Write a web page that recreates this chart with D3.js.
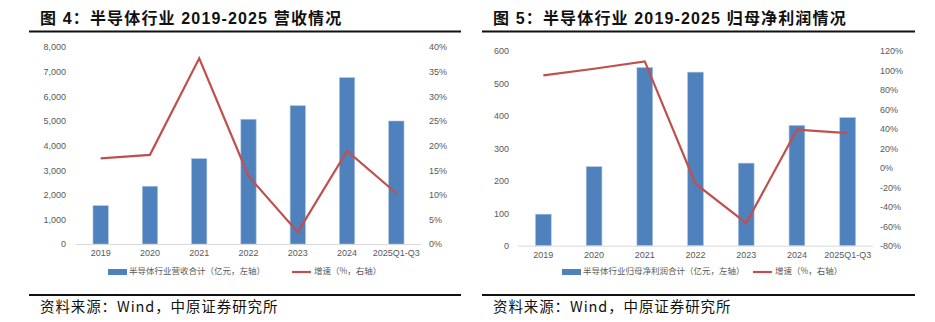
<!DOCTYPE html>
<html>
<head>
<meta charset="utf-8">
<script src="https://cdn.jsdelivr.net/npm/d3@7"></script>
<style>
  html, body { margin: 0; padding: 0; background: #fff; }
  svg { display: block; }
</style>
</head>
<body>
<svg id="chart" width="935" height="322"></svg>
<script>
// Semiconductor industry, 2019-2025
const categories = ["2019", "2020", "2021", "2022", "2023", "2024", "2025Q1-Q3"];

// Fig. 4: revenue (100M CNY, left axis) and growth (%, right axis)
const revenue = [1555, 2345, 3465, 5065, 5615, 6755, 4995];
const revenueGrowth = [17.4, 18.1, 37.7, 13.8, 2.4, 18.9, 10.3];
const revenueTicks = [0, 1000, 2000, 3000, 4000, 5000, 6000, 7000, 8000];
const revenueGrowthTicks = [0, 5, 10, 15, 20, 25, 30, 35, 40];

// Fig. 5: net profit attributable to parent (100M CNY, left axis) and growth (%, right axis)
const netProfit = [97, 243, 548, 534, 254, 370, 394];
const profitGrowth = [94.7, 101.5, 109, -16.4, -56.8, 39, 35.5];
const profitTicks = [0, 100, 200, 300, 400, 500, 600];
const profitGrowthTicks = [-80, -60, -40, -20, 0, 20, 40, 60, 80, 100, 120];

const BAR = "#4f81bd", LINE = "#c0504d", TXT = "#595959";
const latin = "'Liberation Sans', Arial, 'Noto Sans CJK SC', sans-serif";
const cjk = "'Noto Sans CJK SC', 'Liberation Sans', sans-serif";

const svg = d3.select("#chart");

function panel(o) {
  const g = svg.append("g");

  // heading with rule beneath
  g.append("text")
    .attr("x", o.titleX).attr("y", 20)
    .attr("dominant-baseline", "middle")
    .attr("font-family", latin).attr("font-weight", "bold")
    .attr("font-size", 16).attr("letter-spacing", 1.15).attr("fill", "#111")
    .text(o.title);
  g.append("line")
    .attr("x1", o.ruleX1).attr("x2", o.ruleX2)
    .attr("y1", 31.5).attr("y2", 31.5)
    .attr("stroke", "#111").attr("stroke-width", 2);

  const x = d3.scaleBand().domain(categories).range([o.x0, o.x1]);
  const yL = d3.scaleLinear().domain(o.leftDomain).range([o.yBottom, o.yTop]);
  const yR = d3.scaleLinear().domain(o.rightDomain).range([o.yBottom, o.yTop]);
  const bw = x.bandwidth() * 0.31;

  // bars
  g.append("g").selectAll("rect").data(o.bars).join("rect")
    .attr("x", (d, i) => x(categories[i]) + (x.bandwidth() - bw) / 2)
    .attr("y", d => yL(d))
    .attr("width", bw)
    .attr("height", d => yL(o.leftDomain[0]) - yL(d))
    .attr("fill", BAR)
    .attr("stroke", "#a8c0e0").attr("stroke-width", 0.6);

  // category baseline
  g.append("line")
    .attr("x1", o.x0).attr("x2", o.x1)
    .attr("y1", yL(0) + 0.5).attr("y2", yL(0) + 0.5)
    .attr("stroke", "#d9d9d9").attr("stroke-width", 1);

  // growth line
  const line = d3.line()
    .x((d, i) => x(categories[i]) + x.bandwidth() / 2)
    .y(d => yR(d));
  g.append("path").datum(o.line)
    .attr("d", line)
    .attr("fill", "none").attr("stroke", LINE)
    .attr("stroke-width", 2.2).attr("stroke-linejoin", "miter");

  // axes
  const styleAxis = sel => {
    sel.select(".domain").remove();
    sel.selectAll("line").remove();
    sel.selectAll("text").attr("font-family", latin)
      .attr("font-size", 9).attr("fill", TXT);
  };
  g.append("g").attr("transform", `translate(${o.leftLabelX},0)`)
    .call(d3.axisLeft(yL).tickValues(o.leftTicks).tickSize(0).tickPadding(0)
      .tickFormat(d3.format(",")))
    .call(styleAxis);
  g.append("g").attr("transform", `translate(${o.rightLabelX},0)`)
    .call(d3.axisRight(yR).tickValues(o.rightTicks).tickSize(0).tickPadding(0)
      .tickFormat(d => d + "%"))
    .call(styleAxis);
  g.append("g").attr("transform", `translate(0,${o.yBottom})`)
    .call(d3.axisBottom(x).tickSize(0).tickPadding(6))
    .call(styleAxis);

  // legend
  const lg = g.append("g").attr("transform", `translate(0,${o.legendY})`);
  lg.append("rect").attr("x", o.legBarX).attr("y", -3)
    .attr("width", 19).attr("height", 6).attr("fill", BAR);
  lg.append("text").attr("x", o.legBarX + 21).attr("y", 0)
    .attr("dominant-baseline", "middle")
    .attr("font-family", cjk).attr("font-size", 8.5).attr("fill", TXT)
    .text(o.legBarText);
  lg.append("line").attr("x1", o.legLineX).attr("x2", o.legLineX + 19)
    .attr("y1", 0).attr("y2", 0)
    .attr("stroke", LINE).attr("stroke-width", 2.2);
  lg.append("text").attr("x", o.legLineX + 22).attr("y", 0)
    .attr("dominant-baseline", "middle")
    .attr("font-family", cjk).attr("font-size", 8.5).attr("fill", TXT)
    .text("增速（%，右轴）");

  // source note
  g.append("line")
    .attr("x1", o.ruleX1).attr("x2", o.ruleX2)
    .attr("y1", 295).attr("y2", 295)
    .attr("stroke", "#111").attr("stroke-width", 2);
  g.append("text")
    .attr("x", o.titleX).attr("y", 308)
    .attr("dominant-baseline", "middle")
    .attr("font-family", cjk).attr("font-size", 14.5).attr("letter-spacing", 0.9)
    .attr("fill", "#111")
    .text("资料来源：Wind，中原证券研究所");
}

panel({
  title: "图 4：半导体行业 2019-2025 营收情况",
  titleX: 40, ruleX1: 29, ruleX2: 461,
  x0: 76, x1: 421, yTop: 47, yBottom: 244,
  leftDomain: [0, 8000], rightDomain: [0, 40],
  leftTicks: revenueTicks, rightTicks: revenueGrowthTicks,
  leftLabelX: 66, rightLabelX: 429,
  bars: revenue, line: revenueGrowth,
  legendY: 272, legBarX: 108, legLineX: 292,
  legBarText: "半导体行业营收合计（亿元，左轴）"
});

panel({
  title: "图 5：半导体行业 2019-2025 归母净利润情况",
  titleX: 493, ruleX1: 482, ruleX2: 915,
  x0: 518, x1: 873, yTop: 50.7, yBottom: 245.7,
  leftDomain: [0, 600], rightDomain: [-80, 120],
  leftTicks: profitTicks, rightTicks: profitGrowthTicks,
  leftLabelX: 509, rightLabelX: 880,
  bars: netProfit, line: profitGrowth,
  legendY: 272, legBarX: 562, legLineX: 753,
  legBarText: "半导体行业归母净利润合计（亿元，左轴）"
});
</script>
</body>
</html>
